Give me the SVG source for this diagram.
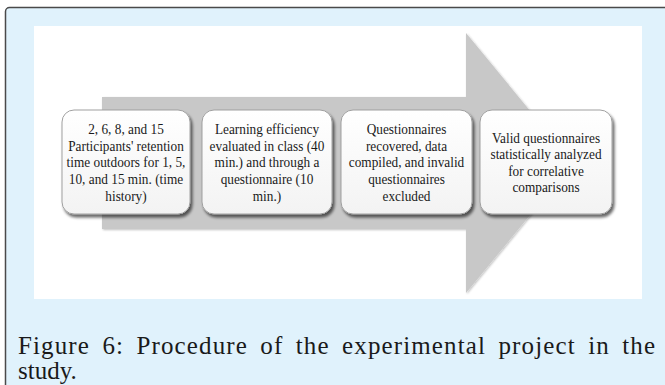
<svg xmlns="http://www.w3.org/2000/svg" width="665" height="385" viewBox="0 0 665 385">
<style>
.box{fill:url(#boxg);stroke:#a0a0a0;stroke-width:1;filter:url(#sh)}
.t{font-family:"Liberation Serif","Times New Roman",serif;font-size:14px;fill:#1a1a1a;text-anchor:middle}
.cap{font-family:"Liberation Serif","Times New Roman",serif;font-size:25px;fill:#1a1a1a}
</style>
<defs>
<linearGradient id="boxg" x1="0" y1="0" x2="0" y2="1">
<stop offset="0" stop-color="#ffffff"/>
<stop offset="1" stop-color="#f3f3f3"/>
</linearGradient>
<filter id="sh" x="-10%" y="-10%" width="125%" height="130%">
<feGaussianBlur in="SourceAlpha" stdDeviation="1.6"/>
<feOffset dx="1.5" dy="3" result="b"/>
<feComponentTransfer><feFuncA type="linear" slope="0.6"/></feComponentTransfer>
<feMerge><feMergeNode/><feMergeNode in="SourceGraphic"/></feMerge>
</filter>
<filter id="ash" x="-5%" y="-5%" width="110%" height="110%">
<feGaussianBlur in="SourceAlpha" stdDeviation="1"/>
<feOffset dx="0.5" dy="1" result="b"/>
<feComponentTransfer><feFuncA type="linear" slope="0.25"/></feComponentTransfer>
<feMerge><feMergeNode/><feMergeNode in="SourceGraphic"/></feMerge>
</filter>
</defs>
<rect x="5.5" y="7.5" width="700" height="400" rx="4" fill="#e0f2fc" stroke="#4a4a4a" stroke-width="1.5"/>
<rect x="34" y="26" width="608" height="273" fill="#ffffff"/>
<g id="connectors">
<polygon points="102,97 466,97 466,33 573,163 466,293 466,229 102,229" fill="#c8c8c8" filter="url(#ash)"/>
</g>
<g id="node1">
<rect class="box" x="62" y="110" width="128" height="104" rx="12"/>
<g transform="translate(126 0) scale(0.95 1)">
<text class="t" x="0" y="134.3">2, 6, 8, and 15</text>
<text class="t" x="0" y="150.9">Participants' retention</text>
<text class="t" x="0" y="167.5">time outdoors for 1, 5,</text>
<text class="t" x="0" y="184.1">10, and 15 min. (time</text>
<text class="t" x="0" y="200.7">history)</text>
</g>
</g>
<g id="node2">
<rect class="box" x="202" y="110" width="130" height="104" rx="12"/>
<g transform="translate(267 0) scale(0.95 1)">
<text class="t" x="0" y="134.3">Learning efficiency</text>
<text class="t" x="0" y="150.9">evaluated in class (40</text>
<text class="t" x="0" y="167.5">min.) and through a</text>
<text class="t" x="0" y="184.1">questionnaire (10</text>
<text class="t" x="0" y="200.7">min.)</text>
</g>
</g>
<g id="node3">
<rect class="box" x="341" y="110" width="131" height="104" rx="12"/>
<g transform="translate(406.5 0) scale(0.95 1)">
<text class="t" x="0" y="134.3">Questionnaires</text>
<text class="t" x="0" y="150.9">recovered, data</text>
<text class="t" x="0" y="167.5">compiled, and invalid</text>
<text class="t" x="0" y="184.1">questionnaires</text>
<text class="t" x="0" y="200.7">excluded</text>
</g>
</g>
<g id="node4">
<rect class="box" x="480" y="110" width="132" height="104" rx="12"/>
<g transform="translate(546 0) scale(0.95 1)">
<text class="t" x="0" y="142.6">Valid questionnaires</text>
<text class="t" x="0" y="159.2">statistically analyzed</text>
<text class="t" x="0" y="175.8">for correlative</text>
<text class="t" x="0" y="192.4">comparisons</text>
</g>
</g>
<text class="cap" x="18" y="354" word-spacing="5" textLength="637" lengthAdjust="spacing">Figure 6: Procedure of the experimental project in the</text>
<text class="cap" x="18" y="379">study.</text>
</svg>
